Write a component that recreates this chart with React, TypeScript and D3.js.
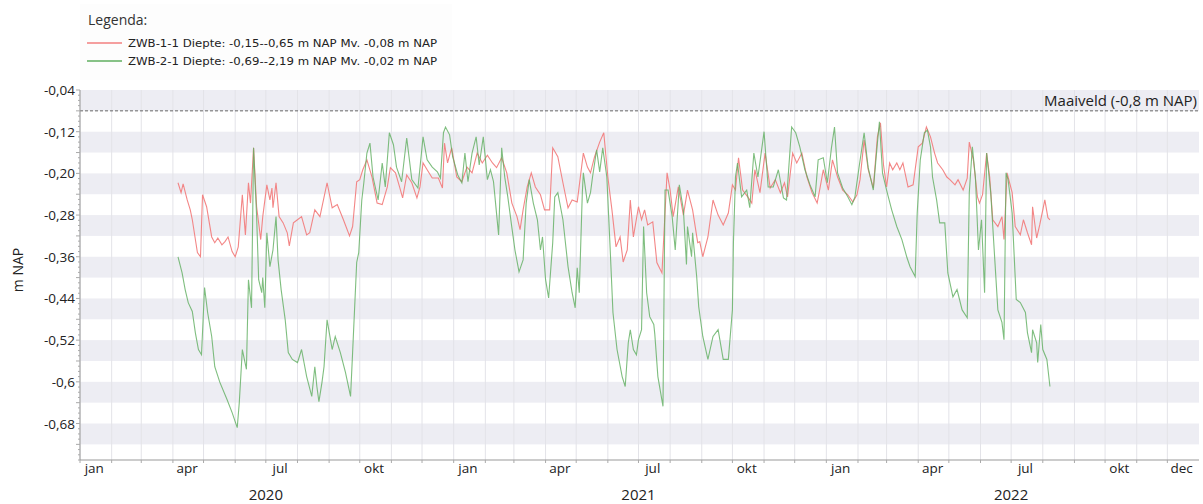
import React from "react";
import * as d3 from "d3";

const legendTitle = "Legenda:";
const seriesNames = [
  "ZWB-1-1 Diepte: -0,15--0,65 m NAP Mv. -0,08 m NAP",
  "ZWB-2-1 Diepte: -0,69--2,19 m NAP Mv. -0,02 m NAP",
];
const yTicks = [-0.04, -0.12, -0.2, -0.28, -0.36, -0.44, -0.52, -0.6, -0.68];
const yTickLabels = ["-0,04", "-0,12", "-0,20", "-0,28", "-0,36", "-0,44", "-0,52", "-0,6", "-0,68"];
const monthLabels: [string, string][] = [
  ["2020-01-15", "jan"], ["2020-04-15", "apr"], ["2020-07-15", "jul"], ["2020-10-15", "okt"],
  ["2021-01-15", "jan"], ["2021-04-15", "apr"], ["2021-07-15", "jul"], ["2021-10-15", "okt"],
  ["2022-01-15", "jan"], ["2022-04-15", "apr"], ["2022-07-15", "jul"], ["2022-10-15", "okt"],
  ["2022-12-15", "dec"],
];
const yearLabels: [string, string][] = [["2020-07-01", "2020"], ["2021-07-01", "2021"], ["2022-07-01", "2022"]];
const maaiveldValue = -0.08;
const maaiveldLabel = "Maaiveld (-0,8 m NAP)";
const xDomain = ["2020-01-01", "2023-01-01"];
const yDomain = [-0.75, -0.04];

const zwb1: [string, number][] = [
  ["2020-04-06", -0.218], ["2020-04-09", -0.237], ["2020-04-11", -0.22], ["2020-04-15", -0.251], ["2020-04-18", -0.27],
  ["2020-04-20", -0.289], ["2020-04-25", -0.352], ["2020-04-28", -0.36], ["2020-04-30", -0.241], ["2020-05-04", -0.264],
  ["2020-05-09", -0.322], ["2020-05-12", -0.333], ["2020-05-15", -0.324], ["2020-05-19", -0.337], ["2020-05-22", -0.331],
  ["2020-05-25", -0.322], ["2020-05-29", -0.35], ["2020-06-01", -0.36], ["2020-06-04", -0.341], ["2020-06-08", -0.241],
  ["2020-06-11", -0.318], ["2020-06-14", -0.218], ["2020-06-16", -0.257], ["2020-06-19", -0.151], ["2020-06-22", -0.264],
  ["2020-06-26", -0.327], ["2020-06-28", -0.283], ["2020-07-02", -0.222], ["2020-07-05", -0.251], ["2020-07-07", -0.228],
  ["2020-07-08", -0.266], ["2020-07-11", -0.218], ["2020-07-14", -0.283], ["2020-07-18", -0.295], ["2020-07-22", -0.314],
  ["2020-07-24", -0.339], ["2020-07-28", -0.295], ["2020-08-01", -0.289], ["2020-08-05", -0.283], ["2020-08-10", -0.318],
  ["2020-08-13", -0.314], ["2020-08-18", -0.27], ["2020-08-23", -0.283], ["2020-08-30", -0.218], ["2020-09-04", -0.266],
  ["2020-09-09", -0.26], ["2020-09-15", -0.289], ["2020-09-21", -0.32], ["2020-09-24", -0.302], ["2020-09-28", -0.216],
  ["2020-10-01", -0.212], ["2020-10-04", -0.193], ["2020-10-08", -0.174], ["2020-10-13", -0.207], ["2020-10-18", -0.257],
  ["2020-10-23", -0.26], ["2020-10-28", -0.226], ["2020-10-31", -0.189], ["2020-11-05", -0.199], ["2020-11-09", -0.226],
  ["2020-11-12", -0.247], ["2020-11-16", -0.203], ["2020-11-21", -0.218], ["2020-11-26", -0.247], ["2020-11-29", -0.226],
  ["2020-12-02", -0.18], ["2020-12-06", -0.193], ["2020-12-11", -0.209], ["2020-12-17", -0.209], ["2020-12-21", -0.228],
  ["2020-12-23", -0.142], ["2020-12-26", -0.18], ["2020-12-30", -0.151], ["2021-01-04", -0.207], ["2021-01-09", -0.216],
  ["2021-01-14", -0.188], ["2021-01-19", -0.199], ["2021-01-24", -0.161], ["2021-01-29", -0.18], ["2021-02-03", -0.165],
  ["2021-02-08", -0.18], ["2021-02-12", -0.189], ["2021-02-17", -0.17], ["2021-02-22", -0.199], ["2021-02-27", -0.257],
  ["2021-03-04", -0.283], ["2021-03-07", -0.308], ["2021-03-10", -0.27], ["2021-03-14", -0.226], ["2021-03-18", -0.199],
  ["2021-03-22", -0.226], ["2021-03-27", -0.241], ["2021-03-31", -0.27], ["2021-04-05", -0.27], ["2021-04-08", -0.151],
  ["2021-04-13", -0.168], ["2021-04-18", -0.218], ["2021-04-23", -0.266], ["2021-04-27", -0.251], ["2021-05-02", -0.255],
  ["2021-05-08", -0.161], ["2021-05-12", -0.188], ["2021-05-15", -0.199], ["2021-05-19", -0.168], ["2021-05-24", -0.14],
  ["2021-05-28", -0.122], ["2021-06-01", -0.207], ["2021-06-05", -0.27], ["2021-06-09", -0.341], ["2021-06-13", -0.322],
  ["2021-06-16", -0.37], ["2021-06-20", -0.347], ["2021-06-23", -0.251], ["2021-06-26", -0.322], ["2021-07-01", -0.264],
  ["2021-07-04", -0.289], ["2021-07-07", -0.27], ["2021-07-10", -0.299], ["2021-07-15", -0.293], ["2021-07-19", -0.371],
  ["2021-07-24", -0.391], ["2021-07-29", -0.199], ["2021-08-01", -0.232], ["2021-08-04", -0.283], ["2021-08-09", -0.226],
  ["2021-08-14", -0.28], ["2021-08-18", -0.232], ["2021-08-23", -0.27], ["2021-08-28", -0.333], ["2021-08-30", -0.331],
  ["2021-09-02", -0.36], ["2021-09-07", -0.322], ["2021-09-12", -0.251], ["2021-09-17", -0.28], ["2021-09-22", -0.299],
  ["2021-09-27", -0.276], ["2021-10-01", -0.222], ["2021-10-04", -0.232], ["2021-10-07", -0.17], ["2021-10-11", -0.232],
  ["2021-10-16", -0.245], ["2021-10-20", -0.257], ["2021-10-23", -0.193], ["2021-10-28", -0.237], ["2021-11-02", -0.161],
  ["2021-11-07", -0.228], ["2021-11-12", -0.212], ["2021-11-17", -0.237], ["2021-11-21", -0.218], ["2021-11-24", -0.245],
  ["2021-11-29", -0.161], ["2021-12-03", -0.18], ["2021-12-08", -0.161], ["2021-12-13", -0.207], ["2021-12-18", -0.237],
  ["2021-12-23", -0.257], ["2021-12-26", -0.226], ["2021-12-29", -0.193], ["2022-01-03", -0.232], ["2022-01-07", -0.174],
  ["2022-01-12", -0.207], ["2022-01-17", -0.232], ["2022-01-22", -0.241], ["2022-01-27", -0.255], ["2022-01-31", -0.241],
  ["2022-02-03", -0.212], ["2022-02-07", -0.136], ["2022-02-11", -0.193], ["2022-02-16", -0.228], ["2022-02-20", -0.13],
  ["2022-02-23", -0.103], ["2022-02-26", -0.184], ["2022-03-01", -0.226], ["2022-03-04", -0.18], ["2022-03-07", -0.193],
  ["2022-03-11", -0.18], ["2022-03-14", -0.193], ["2022-03-17", -0.18], ["2022-03-22", -0.226], ["2022-03-27", -0.222],
  ["2022-04-01", -0.149], ["2022-04-05", -0.142], ["2022-04-09", -0.111], ["2022-04-13", -0.13], ["2022-04-17", -0.161],
  ["2022-04-20", -0.18], ["2022-04-25", -0.193], ["2022-04-29", -0.207], ["2022-05-02", -0.212], ["2022-05-07", -0.222],
  ["2022-05-10", -0.212], ["2022-05-15", -0.232], ["2022-05-19", -0.209], ["2022-05-21", -0.14], ["2022-05-25", -0.174],
  ["2022-05-29", -0.245], ["2022-05-31", -0.257], ["2022-06-03", -0.241], ["2022-06-07", -0.161], ["2022-06-10", -0.207],
  ["2022-06-13", -0.289], ["2022-06-18", -0.302], ["2022-06-22", -0.283], ["2022-06-24", -0.327], ["2022-06-27", -0.199],
  ["2022-07-02", -0.237], ["2022-07-05", -0.302], ["2022-07-10", -0.318], ["2022-07-13", -0.289], ["2022-07-17", -0.314],
  ["2022-07-21", -0.337], ["2022-07-22", -0.264], ["2022-07-26", -0.324], ["2022-07-29", -0.299], ["2022-08-03", -0.251],
  ["2022-08-06", -0.285], ["2022-08-08", -0.289],
];

const zwb2: [string, number][] = [
  ["2020-04-06", -0.36], ["2020-04-10", -0.391], ["2020-04-13", -0.423], ["2020-04-16", -0.448], ["2020-04-20", -0.465],
  ["2020-04-23", -0.506], ["2020-04-26", -0.538], ["2020-04-29", -0.548], ["2020-05-02", -0.419], ["2020-05-05", -0.467],
  ["2020-05-09", -0.513], ["2020-05-12", -0.571], ["2020-05-17", -0.601], ["2020-05-24", -0.634], ["2020-05-29", -0.659],
  ["2020-06-03", -0.688], ["2020-06-05", -0.64], ["2020-06-08", -0.538], ["2020-06-12", -0.576], ["2020-06-14", -0.404],
  ["2020-06-17", -0.458], ["2020-06-19", -0.151], ["2020-06-22", -0.283], ["2020-06-24", -0.404], ["2020-06-27", -0.429],
  ["2020-06-28", -0.4], ["2020-06-30", -0.458], ["2020-07-02", -0.314], ["2020-07-05", -0.379], ["2020-07-08", -0.347],
  ["2020-07-11", -0.283], ["2020-07-13", -0.366], ["2020-07-16", -0.423], ["2020-07-20", -0.481], ["2020-07-23", -0.544],
  ["2020-07-27", -0.557], ["2020-08-01", -0.563], ["2020-08-05", -0.538], ["2020-08-10", -0.59], ["2020-08-15", -0.628],
  ["2020-08-18", -0.571], ["2020-08-20", -0.609], ["2020-08-22", -0.638], ["2020-08-25", -0.601], ["2020-08-27", -0.571],
  ["2020-08-30", -0.481], ["2020-09-04", -0.538], ["2020-09-07", -0.513], ["2020-09-12", -0.544], ["2020-09-17", -0.582],
  ["2020-09-22", -0.628], ["2020-09-24", -0.544], ["2020-09-28", -0.371], ["2020-09-30", -0.352], ["2020-10-03", -0.251],
  ["2020-10-05", -0.218], ["2020-10-08", -0.161], ["2020-10-11", -0.142], ["2020-10-14", -0.207], ["2020-10-19", -0.251],
  ["2020-10-23", -0.18], ["2020-10-26", -0.226], ["2020-10-30", -0.122], ["2020-11-03", -0.145], ["2020-11-06", -0.188],
  ["2020-11-11", -0.216], ["2020-11-16", -0.132], ["2020-11-21", -0.212], ["2020-11-27", -0.228], ["2020-12-02", -0.13],
  ["2020-12-06", -0.174], ["2020-12-11", -0.188], ["2020-12-16", -0.197], ["2020-12-19", -0.209], ["2020-12-22", -0.122],
  ["2020-12-24", -0.111], ["2020-12-28", -0.126], ["2020-12-31", -0.168], ["2021-01-05", -0.203], ["2021-01-09", -0.218],
  ["2021-01-12", -0.161], ["2021-01-15", -0.216], ["2021-01-19", -0.161], ["2021-01-23", -0.13], ["2021-01-26", -0.184],
  ["2021-01-30", -0.13], ["2021-02-03", -0.212], ["2021-02-06", -0.193], ["2021-02-09", -0.216], ["2021-02-14", -0.318],
  ["2021-02-17", -0.151], ["2021-02-20", -0.207], ["2021-02-23", -0.245], ["2021-02-27", -0.304], ["2021-03-02", -0.347],
  ["2021-03-06", -0.389], ["2021-03-10", -0.366], ["2021-03-13", -0.257], ["2021-03-16", -0.212], ["2021-03-20", -0.257],
  ["2021-03-24", -0.289], ["2021-03-27", -0.347], ["2021-03-29", -0.322], ["2021-04-01", -0.404], ["2021-04-04", -0.439],
  ["2021-04-08", -0.333], ["2021-04-10", -0.245], ["2021-04-13", -0.237], ["2021-04-18", -0.289], ["2021-04-23", -0.379],
  ["2021-04-27", -0.429], ["2021-04-30", -0.458], ["2021-05-02", -0.381], ["2021-05-04", -0.429], ["2021-05-07", -0.237],
  ["2021-05-08", -0.199], ["2021-05-12", -0.257], ["2021-05-15", -0.237], ["2021-05-17", -0.207], ["2021-05-21", -0.155],
  ["2021-05-24", -0.197], ["2021-05-27", -0.151], ["2021-05-31", -0.207], ["2021-06-03", -0.333], ["2021-06-06", -0.467],
  ["2021-06-10", -0.538], ["2021-06-15", -0.59], ["2021-06-18", -0.609], ["2021-06-21", -0.525], ["2021-06-23", -0.5],
  ["2021-06-26", -0.538], ["2021-06-29", -0.548], ["2021-07-01", -0.519], ["2021-07-04", -0.5], ["2021-07-06", -0.302],
  ["2021-07-09", -0.429], ["2021-07-12", -0.475], ["2021-07-16", -0.49], ["2021-07-17", -0.509], ["2021-07-20", -0.59],
  ["2021-07-25", -0.647], ["2021-07-27", -0.232], ["2021-07-30", -0.232], ["2021-08-03", -0.283], ["2021-08-06", -0.347],
  ["2021-08-10", -0.222], ["2021-08-14", -0.27], ["2021-08-17", -0.375], ["2021-08-18", -0.302], ["2021-08-22", -0.36],
  ["2021-08-23", -0.314], ["2021-08-27", -0.398], ["2021-08-29", -0.456], ["2021-09-02", -0.513], ["2021-09-07", -0.557],
  ["2021-09-12", -0.513], ["2021-09-17", -0.5], ["2021-09-22", -0.557], ["2021-09-27", -0.557], ["2021-10-01", -0.462],
  ["2021-10-02", -0.333], ["2021-10-04", -0.207], ["2021-10-06", -0.18], ["2021-10-10", -0.245], ["2021-10-15", -0.232],
  ["2021-10-18", -0.266], ["2021-10-22", -0.161], ["2021-10-26", -0.207], ["2021-11-01", -0.12], ["2021-11-05", -0.226],
  ["2021-11-10", -0.226], ["2021-11-15", -0.193], ["2021-11-20", -0.247], ["2021-11-23", -0.251], ["2021-11-28", -0.111],
  ["2021-12-02", -0.122], ["2021-12-06", -0.149], ["2021-12-11", -0.193], ["2021-12-16", -0.222], ["2021-12-21", -0.245],
  ["2021-12-24", -0.174], ["2021-12-29", -0.17], ["2022-01-02", -0.218], ["2022-01-06", -0.151], ["2022-01-09", -0.111],
  ["2022-01-12", -0.199], ["2022-01-17", -0.228], ["2022-01-22", -0.245], ["2022-01-26", -0.26], ["2022-01-29", -0.245],
  ["2022-02-02", -0.189], ["2022-02-07", -0.122], ["2022-02-11", -0.189], ["2022-02-16", -0.232], ["2022-02-20", -0.142],
  ["2022-02-22", -0.101], ["2022-02-25", -0.199], ["2022-03-01", -0.232], ["2022-03-06", -0.27], ["2022-03-11", -0.302],
  ["2022-03-16", -0.327], ["2022-03-21", -0.362], ["2022-03-24", -0.379], ["2022-03-29", -0.398], ["2022-03-31", -0.276],
  ["2022-04-03", -0.174], ["2022-04-07", -0.122], ["2022-04-10", -0.117], ["2022-04-13", -0.149], ["2022-04-15", -0.207],
  ["2022-04-19", -0.251], ["2022-04-22", -0.295], ["2022-04-27", -0.295], ["2022-04-30", -0.391], ["2022-05-05", -0.437],
  ["2022-05-09", -0.423], ["2022-05-14", -0.462], ["2022-05-19", -0.477], ["2022-05-21", -0.237], ["2022-05-24", -0.149],
  ["2022-05-27", -0.207], ["2022-05-30", -0.347], ["2022-06-02", -0.289], ["2022-06-05", -0.429], ["2022-06-07", -0.161],
  ["2022-06-11", -0.237], ["2022-06-15", -0.366], ["2022-06-18", -0.462], ["2022-06-22", -0.486], ["2022-06-24", -0.519],
  ["2022-06-26", -0.199], ["2022-06-28", -0.212], ["2022-07-02", -0.276], ["2022-07-06", -0.442], ["2022-07-10", -0.448],
  ["2022-07-15", -0.467], ["2022-07-17", -0.506], ["2022-07-21", -0.544], ["2022-07-22", -0.5], ["2022-07-26", -0.525],
  ["2022-07-27", -0.563], ["2022-07-30", -0.49], ["2022-08-01", -0.538], ["2022-08-05", -0.557], ["2022-08-08", -0.609],
];

const colors = ["#f27f7f", "#5fae5f"];
const FONT = "'Open Sans', 'Noto Sans', sans-serif";

export default function App() {
  const W = 1203, H = 504;
  const left = 80, right = 1199, top = 90, bottom = 460;
  const parse = d3.utcParse("%Y-%m-%d");
  const x = d3.scaleUtc().domain(xDomain.map((s) => parse(s) as Date)).range([left, right]);
  const y = d3.scaleLinear().domain(yDomain).range([bottom, top]);

  const months = d3.utcMonth.range(parse(xDomain[0]) as Date, parse(xDomain[1]) as Date);
  const line = d3
    .line<[string, number]>()
    .x((d) => x(parse(d[0]) as Date))
    .y((d) => y(d[1]));

  const bands = yTicks.map((t) => [t, t - 0.04]);
  const minor = d3.range(0, 72).map((i) => -0.04 - i * 0.01).filter((v) => v >= -0.75);

  return (
    <svg width={W} height={H} style={{ position: "absolute", left: 0, top: 0, background: "#fff" }} fontFamily={FONT}>
      {/* legend */}
      <rect x={80} y={4} width={372} height={76} fill="#fdfdfd" />
      <text x={88} y={25} fontSize={14} fill="#333">{legendTitle}</text>
      {seriesNames.map((n, i) => (
        <g key={n}>
          <line x1={87} x2={122} y1={43 + i * 18} y2={43 + i * 18} stroke={colors[i]} strokeWidth={1.5} />
          <text x={128} y={47 + i * 18} fontSize={11} fill="#222" fontFamily="'DejaVu Sans', sans-serif" textLength={309} lengthAdjust="spacingAndGlyphs">{n}</text>
        </g>
      ))}

      {/* plot background bands */}
      <rect x={left} y={top} width={right - left} height={bottom - top} fill="#fff" />
      {bands.map(([a, b]) => (
        <rect key={a} x={left} y={y(a)} width={right - left} height={y(b) - y(a)} fill="#ededf3" />
      ))}
      {/* vertical grid */}
      {months.map((m) => (
        <line key={+m} x1={x(m)} x2={x(m)} y1={top} y2={bottom} stroke="#e3e3e8" strokeWidth={1} />
      ))}

      {/* maaiveld */}
      <line x1={left} x2={right} y1={y(maaiveldValue)} y2={y(maaiveldValue)} stroke="#666" strokeWidth={1} strokeDasharray="3,2" />
      <text x={1197} y={106} fontSize={15} textAnchor="end" fill="#222">{maaiveldLabel}</text>

      {/* series */}
      <path d={line(zwb1) || ""} fill="none" stroke={colors[0]} strokeWidth={1.1} strokeOpacity={0.95} />
      <path d={line(zwb2) || ""} fill="none" stroke={colors[1]} strokeWidth={1.1} strokeOpacity={0.8} />

      {/* axes */}
      <line x1={left} x2={left} y1={top} y2={bottom} stroke="#999" />
      <line x1={left} x2={right} y1={bottom} y2={bottom} stroke="#999" />
      {minor.map((v, i) => (
        <line key={i} x1={left - (i % 4 === 0 ? 4 : 2)} x2={left} y1={y(v)} y2={y(v)} stroke="#aaa" />
      ))}
      {yTicks.map((t, i) => (
        <text key={t} x={75} y={y(t) + 5} fontSize={13.5} textAnchor="end" fill="#222">{yTickLabels[i]}</text>
      ))}
      {months.map((m) => (
        <line key={+m} x1={x(m)} x2={x(m)} y1={bottom} y2={bottom + 3} stroke="#aaa" />
      ))}
      {monthLabels.map(([d, l]) => (
        <text key={d} x={x(parse(d) as Date)} y={473} fontSize={13.5} textAnchor="middle" fill="#222">{l}</text>
      ))}
      {yearLabels.map(([d, l]) => (
        <text key={d} x={x(parse(d) as Date)} y={500} fontSize={15} textAnchor="middle" fill="#222">{l}</text>
      ))}
      <text transform={`translate(23,270) rotate(-90)`} fontSize={14} textAnchor="middle" fill="#222">m NAP</text>
    </svg>
  );
}
